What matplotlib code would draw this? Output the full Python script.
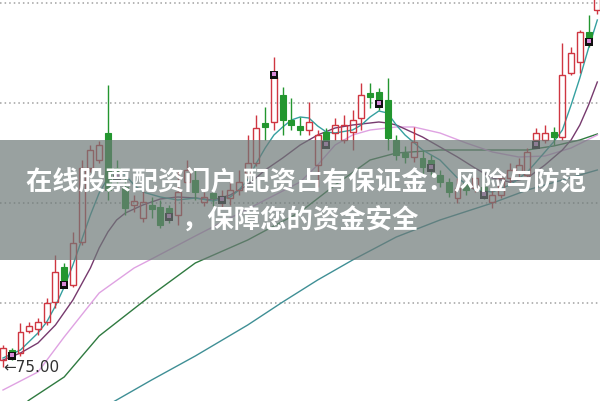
import matplotlib
matplotlib.use("Agg")
import matplotlib.pyplot as plt
from matplotlib.patches import Rectangle

# candles, left to right (price units, low of first candle = 75.00)
opens = [75.35, 75.85, 75.70, 76.80, 76.90, 77.25, 78.25, 80.00, 79.10, 81.25,
         84.95, 85.35, 86.70, 84.95, 84.00, 83.10, 82.45, 83.10, 83.00, 82.95,
         82.60, 84.25, 84.35, 83.25, 83.70, 83.20, 83.45, 83.85, 84.70, 85.20,
         87.20, 87.25, 88.60, 87.35, 87.05, 86.85, 85.10, 86.75, 86.70, 86.35,
         86.75, 87.45, 88.70, 88.75, 88.35, 86.35, 85.70, 85.50, 85.45, 85.35,
         84.60, 84.25, 83.45, 84.20, 83.95, 84.00, 83.25, 83.60, 84.45, 84.75,
         84.60, 86.35, 86.35, 86.75, 86.50, 89.70, 90.25, 91.75, 92.85]
closes = [75.95, 75.65, 76.75, 77.05, 77.25, 78.20, 79.75, 79.35, 81.20, 84.95,
          85.85, 86.10, 83.85, 84.65, 82.95, 83.30, 83.25, 82.90, 82.10, 82.70,
          83.75, 84.85, 83.75, 83.50, 83.45, 83.55, 83.85, 84.25, 85.20, 86.95,
          87.00, 89.50, 87.35, 87.10, 86.85, 87.25, 86.60, 86.35, 87.10, 87.10,
          87.35, 88.60, 88.50, 88.35, 86.45, 85.60, 85.50, 86.25, 85.00, 85.10,
          84.25, 83.75, 83.95, 83.85, 84.45, 83.75, 83.60, 84.45, 84.85, 85.10,
          85.75, 86.70, 86.70, 86.50, 89.60, 90.70, 91.75, 91.45, 93.50]
highs = [76.10, 75.95, 77.20, 77.25, 77.45, 78.45, 80.60, 80.20, 81.75, 85.35,
         86.10, 86.30, 89.10, 85.35, 84.45, 83.60, 83.85, 83.50, 83.35, 83.10,
         84.85, 85.35, 84.85, 83.75, 83.95, 83.85, 84.25, 84.85, 86.60, 87.60,
         88.00, 90.50, 89.00, 88.45, 87.50, 88.25, 86.85, 86.95, 87.45, 87.60,
         87.85, 89.20, 89.20, 88.95, 89.45, 86.60, 86.05, 87.00, 85.85, 85.60,
         84.85, 84.45, 84.45, 84.45, 84.75, 84.20, 83.95, 84.75, 85.20, 85.45,
         85.95, 86.95, 87.10, 87.00, 91.20, 91.00, 91.85, 92.60, 93.85]
lows = [75.00, 75.35, 75.55, 76.70, 76.60, 77.10, 77.95, 78.95, 79.00, 81.10,
        84.75, 85.20, 83.35, 84.10, 82.60, 82.75, 82.25, 82.45, 81.95, 82.20,
        82.10, 83.95, 83.35, 83.05, 83.05, 82.95, 83.10, 83.60, 84.45, 85.05,
        86.35, 86.85, 86.60, 86.85, 86.60, 86.60, 84.00, 85.95, 86.35, 86.20,
        85.85, 86.85, 87.95, 87.85, 85.85, 85.35, 85.20, 85.25, 84.60, 84.60,
        84.00, 83.50, 83.20, 83.60, 83.75, 83.40, 82.95, 83.45, 84.20, 84.45,
        84.45, 86.00, 86.20, 86.10, 86.35, 89.60, 89.70, 91.00, 92.65]

# signal markers (black/pink squares)
sig_idx = [1, 7, 13, 19, 25, 31, 37, 43, 49, 55, 61, 67]
sig_val = [75.55, 79.10, 84.50, 82.50, 83.35, 89.60, 86.10, 88.15, 84.95, 83.60, 86.10, 91.25]

# moving averages, read at candle positions
ma5_idx = [0, 2, 4, 5, 6, 7, 8, 9, 10, 11, 12, 13, 14, 15, 16, 18, 20, 22, 24, 26,
           27, 28, 29, 30, 31, 32, 33, 34, 35, 36, 37, 38, 40, 41, 42, 43, 44, 45, 46, 48,
           50, 52, 54, 56, 58, 60, 62, 63, 64, 65, 66, 67, 68]
ma5_val = [75.45, 75.85, 76.70, 77.25, 78.05, 79.00, 80.10, 81.35, 82.60, 83.70, 84.45, 84.85,
           84.60, 84.10, 83.75, 83.50, 83.35, 83.45, 83.30, 83.50, 83.85, 84.35, 85.20, 85.95,
           86.60, 87.00, 87.35, 87.50, 87.45, 87.05, 86.75, 86.70, 86.85, 87.10, 87.50, 87.80,
           87.70, 87.10, 86.60, 85.85, 85.35, 84.45, 83.85, 83.75, 84.10, 84.75, 85.75, 86.25,
           86.85, 88.10, 89.45, 90.95, 92.35]
ma10_idx = [0, 2, 4, 6, 8, 10, 11, 12, 13, 14, 16, 18, 20, 22, 24, 26, 28, 30, 32, 34,
            36, 38, 40, 42, 43, 44, 45, 46, 48, 50, 52, 54, 56, 58, 60, 62, 64, 65, 66, 67, 68]
ma10_val = [75.35, 75.70, 76.20, 77.10, 78.35, 79.95, 80.95, 81.75, 82.35, 82.70, 83.10,
            83.40, 83.50, 83.45, 83.35, 83.60, 84.10, 84.85, 85.45, 86.10, 86.60, 86.95,
            87.10, 87.20, 87.25, 87.20, 87.10, 86.90, 86.50, 86.00, 85.50, 84.95, 84.45,
            84.25, 84.45, 85.10, 85.85, 86.35, 87.10, 88.10, 89.25]
ma20_idx = [0, 4, 7, 11, 15, 17, 22, 28, 34, 36, 38, 40, 42, 45, 47, 50, 53, 56, 59, 62, 65, 68]
ma20_val = [73.85, 74.75, 76.50, 78.70, 79.95, 80.40, 81.55, 82.90, 84.25, 85.10, 86.10,
            86.60, 86.85, 87.00, 87.00, 86.70, 86.20, 85.75, 85.50, 85.55, 85.95, 86.60]
ma30_idx = [2, 3, 7, 11, 17, 22, 28, 34, 38, 42, 45, 50, 56, 60, 63, 66, 68]
ma30_val = [73.00, 73.35, 74.50, 76.55, 78.60, 80.20, 81.35, 82.75, 84.10, 85.35, 85.70,
            85.85, 85.85, 85.85, 86.05, 86.35, 86.65]
ma60_idx = [12, 13, 17, 22, 28, 32, 36, 40, 45, 50, 56, 60, 64, 68]
ma60_val = [73.10, 73.35, 74.35, 75.55, 77.10, 78.25, 79.35, 80.35, 81.50, 82.35, 83.20,
            83.85, 84.35, 84.85]

grid_levels = [78.2, 83.2, 88.2, 93.2]
low_label = "\u219075.00"
title_1 = "在线股票配资门户 配资占有保证金：风险与防范"
title_2 = "，保障您的资金安全"

RED = "#cf3641"
GREEN = "#23962f"

fig = plt.figure(figsize=(6, 4.01), dpi=100)
ax = fig.add_axes([0, 0, 1, 1])
ax.set_axis_off()
step = 8.74
ax.set_xlim(-3 / step, -3 / step + 600 / step)
ax.set_ylim(73.3, 93.35)

for lvl in grid_levels:
    ax.axhline(lvl, color="#a0a0a0", lw=1.1, ls=(0, (1, 2)), zorder=0)

# moving averages
ax.plot(ma60_idx, ma60_val, color="#3f8f95", lw=1.0, zorder=1)
ax.plot(ma30_idx, ma30_val, color="#2f7a40", lw=1.0, zorder=1)
ax.plot(ma20_idx, ma20_val, color="#dfa2e2", lw=1.0, zorder=1)
ax.plot(ma10_idx, ma10_val, color="#773a6e", lw=1.0, zorder=1)
ax.plot(ma5_idx, ma5_val, color="#35a0a0", lw=1.0, zorder=1)

# candles
w = 0.68
for i, (o, h, l, c) in enumerate(zip(opens, highs, lows, closes)):
    top, bot = max(o, c), min(o, c)
    if c >= o:
        ax.vlines(i, top, h, color=RED, lw=1.0, zorder=3)
        ax.vlines(i, l, bot, color=RED, lw=1.0, zorder=3)
        ax.add_patch(Rectangle((i - w / 2, bot), w, max(top - bot, 0.05),
                               facecolor="none", edgecolor=RED, lw=1.0, zorder=3))
    else:
        ax.vlines(i, l, h, color=GREEN, lw=1.0, zorder=3)
        ax.add_patch(Rectangle((i - w / 2, bot), w, max(top - bot, 0.08),
                               facecolor=GREEN, edgecolor=GREEN, lw=0.8, zorder=3))

ax.scatter(sig_idx, sig_val, marker="s", s=34, color="#111111", zorder=4, linewidths=0)
ax.scatter(sig_idx, [v + 0.06 for v in sig_val], marker="s", s=7, color="#d98ad9",
           zorder=5, linewidths=0)

ax.text(0, lows[0], low_label, ha="left", va="center", fontsize=11,
        color="#333333", family="DejaVu Sans", zorder=4)

# grey caption band
ax.add_patch(Rectangle((0, (401 - 260) / 401), 1, 120 / 401, transform=ax.transAxes,
                       facecolor="#6e7a78", alpha=0.7, edgecolor="none", zorder=10))
fam = ["Noto Sans CJK SC", "DejaVu Sans"]
ax.text(306 / 600, 1 - 182 / 401, title_1, transform=ax.transAxes, ha="center",
        va="center", fontsize=19, fontweight="bold", color="white", family=fam, zorder=11)
ax.text(300 / 600, 1 - 221 / 401, title_2, transform=ax.transAxes, ha="center",
        va="center", fontsize=19, fontweight="bold", color="white", family=fam, zorder=11)

fig.savefig("out.png", dpi=100)
